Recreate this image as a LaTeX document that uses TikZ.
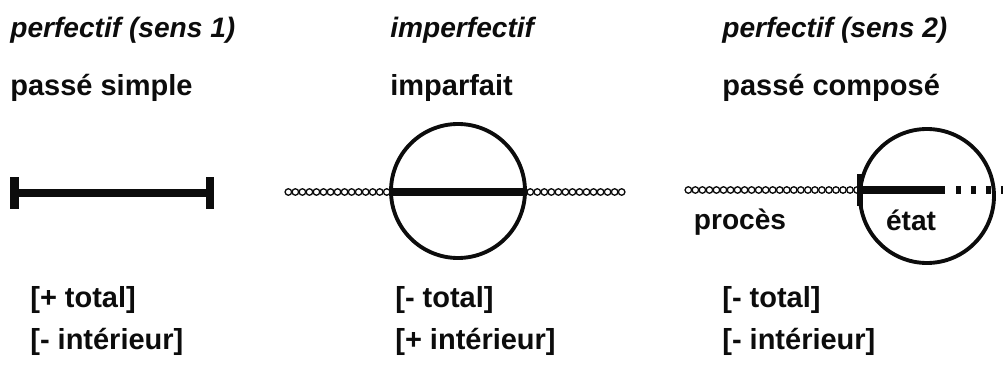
\documentclass[tikz,border=0pt]{standalone}
\usepackage{fontspec}
\setmainfont{Liberation Sans}
\usetikzlibrary{
    decorations.markings,
    positioning,
    calc
}
\definecolor{ink}{RGB}{12,12,12}
\tikzset{
    line cap=butt,
    heading/.style={
        font=\fontsize{16}{20}\selectfont\bfseries\itshape,
        anchor=base west,
        inner sep=0pt,
        text=ink
    },
    tense/.style={
        font=\fontsize{16.5}{20}\selectfont\bfseries,
        anchor=base west,
        inner sep=0pt,
        text=ink
    },
    feature/.style={tense},
    phase/.style={
        font=\fontsize{16}{19}\selectfont\bfseries,
        inner sep=0pt,
        text=ink
    },
    interval/.style={
        draw=ink,
        line width=4.6pt
    },
    bound/.style={
        draw=ink,
        line width=4.6pt
    },
    window/.style={
        circle,
        draw=ink,
        line width=2.2pt,
        minimum size=2.68cm,
        inner sep=0pt
    },
    % chain of small rings for the ongoing process
    process/.style={
        postaction={decorate},
        decoration={markings,
            mark=between positions 1.9pt and 1 step 4pt with {
                \draw[ink, line width=0.75pt] (0,0) circle (1.85pt);
            }
        }
    },
    continuation/.style={
        draw=ink,
        line width=4.6pt,
        dash pattern=on 3pt off 5.5pt
    }
}

\begin{document}
\begin{tikzpicture}
\useasboundingbox (0,0) rectangle (20.06,7.3);

% Headings
\node[heading] (h1) at (0.2, 6.54) {perfectif (sens 1)};
\node[heading] (h2) at (7.8, 6.54) {imperfectif};
\node[heading] (h3) at (14.44, 6.54) {perfectif (sens 2)};

\node[tense] (t1) at (0.2, 5.38) {passé simple};
\node[tense] (t2) at (7.8, 5.38) {imparfait};
\node[tense] (t3) at (14.44, 5.38) {passé composé};

% Perfectif (sens 1): bounded interval
\coordinate (s1) at (0.29, 3.44);
\coordinate (e1) at (4.2, 3.44);
\draw[interval] (s1) -- (e1);
\draw[bound] ($(s1)+(0,-0.32)$) -- ($(s1)+(0,0.32)$);
\draw[bound] ($(e1)+(0,-0.32)$) -- ($(e1)+(0,0.32)$);

% Imperfectif: view from inside
\node[window] (w2) at (9.16, 3.48) {};
\coordinate (p2a) at (5.7, 3.46);
\coordinate (p2b) at (12.5, 3.46);
\path[process] (p2a) -- (w2.west |- p2a);
\draw[interval, line width=4pt] (w2.west |- p2a) -- (w2.east |- p2a);
\path[process] (w2.east |- p2a) -- (p2b);

% Perfectif (sens 2): resulting state
\node[window] (w3) at (18.54, 3.38) {};
\coordinate (p3a) at (13.7, 3.5);
\coordinate (p3b) at (17.2, 3.5);
\coordinate (p3c) at (18.9, 3.5);
\path[process] (p3a) -- (p3b);
\draw[bound, line width=3.4pt] ($(p3b)+(0,-0.32)$) -- ($(p3b)+(0,0.32)$);
\draw[interval] (p3b) -- (p3c);
\draw[continuation] ($(p3c)+(0.22,0)$) -- (20.1, 3.5);
\node[phase] (proc) at (14.8, 2.86) {procès};
\node[phase] (etat) at (18.22, 2.9) {état};

% Features
\node[feature] (f1a) at (0.6, 1.16) {[+ total]};
\node[feature] (f1b) at (0.6, 0.32) {[- intérieur]};
\node[feature] (f2a) at (7.9, 1.16) {[- total]};
\node[feature] (f2b) at (7.9, 0.32) {[+ intérieur]};
\node[feature] (f3a) at (14.44, 1.16) {[- total]};
\node[feature] (f3b) at (14.44, 0.32) {[- intérieur]};

\end{tikzpicture}
\end{document}
